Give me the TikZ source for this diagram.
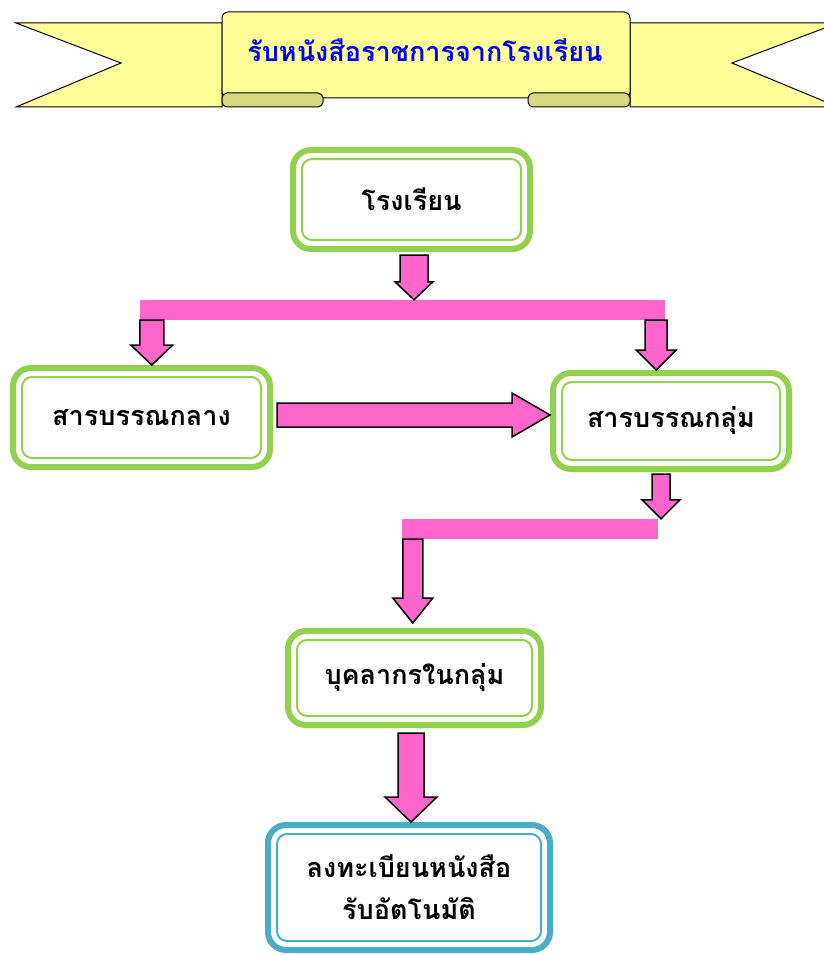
\documentclass[tikz,border=0pt]{standalone}
\usepackage{fontspec}
\newfontfamily\thaifont[Script=Thai]{Loma}
\usetikzlibrary{calc}
\definecolor{boxgreen}{HTML}{92D050}
\definecolor{boxblue}{HTML}{4BACC6}
\definecolor{arrpink}{HTML}{FF66CC}
\definecolor{ribbonyellow}{HTML}{FFFF99}
\definecolor{ribbondark}{HTML}{D8D880}
\definecolor{titleblue}{HTML}{0000FF}
\tikzset{
  box/.style={draw=#1, line width=6pt, rounded corners=18pt, fill=white, inner sep=0pt, align=center,
    font=\thaifont\bfseries\fontsize{27pt}{42pt}\selectfont,
    path picture={\draw[#1, line width=2pt, rounded corners=10pt]
      ([shift={(9pt,-9pt)}]path picture bounding box.north west) rectangle
      ([shift={(-9pt,9pt)}]path picture bounding box.south east);}},
  box/.default=boxgreen,
  bar/.style={fill=arrpink, draw=none, inner sep=0pt},
  parr/.style={draw=black, fill=arrpink, line width=1.5pt, line join=miter},
  ribbon/.style={draw=black, fill=ribbonyellow, line width=1pt},
  fold/.style={draw=black, fill=ribbondark, line width=1pt},
  ttl/.style={font=\thaifont\bfseries\fontsize{27pt}{30pt}\selectfont, text=titleblue},
}
\newcommand{\pinkdown}[5]{%
  \draw[parr] let \p1=#1, \p2=#2 in
    (\x1-#3pt,\y1) -- (\x1+#3pt,\y1) -- (\x1+#3pt,\y2+#5pt) -- (\x1+#4pt,\y2+#5pt)
    -- (\x1,\y2) -- (\x1-#4pt,\y2+#5pt) -- (\x1-#3pt,\y2+#5pt) -- cycle;}
\newcommand{\pinkright}[5]{%
  \draw[parr] let \p1=#1, \p2=#2 in
    (\x1,\y1+#3pt) -- (\x2-#5pt,\y1+#3pt) -- (\x2-#5pt,\y1+#4pt) -- (\x2,\y1)
    -- (\x2-#5pt,\y1-#4pt) -- (\x2-#5pt,\y1-#3pt) -- (\x1,\y1-#3pt) -- cycle;}

\begin{document}
\begin{tikzpicture}[x=1pt,y=-1pt]
\useasboundingbox (0,0) rectangle (823,955);
\draw[ribbon] (222,23) -- (16,23) -- (121,63) -- (16,107) -- (222,107) -- cycle;
\draw[ribbon] (630,23) -- (838,23) -- (732,63) -- (838,107) -- (630,107) -- cycle;
\draw[ribbon, rounded corners=6pt] (222,98) -- (222,12) -- (630,12) -- (630,98) -- cycle;
\draw[fold, rounded corners=5pt] (222,93) rectangle (323,107);
\draw[fold, rounded corners=5pt] (528,93) rectangle (630,107);
\node[ttl] (title) at (425,50) {รับหนังสือราชการจากโรงเรียน};
\node[box, minimum width=237pt, minimum height=99pt] (school) at (411.5,199.5) {โรงเรียน};
\node[bar, minimum width=525pt, minimum height=20pt] (bar1) at (402.5,310) {};
\node[box, minimum width=257pt, minimum height=99pt] (central) at (141.5,417.5) {สารบรรณกลาง};
\node[box, minimum width=236pt, minimum height=96pt] (group) at (671,421) {สารบรรณกลุ่ม};
\node[bar, minimum width=256pt, minimum height=20pt] (bar2) at (530,529) {};
\node[box, minimum width=253pt, minimum height=94pt] (staff) at (414.5,678) {บุคลากรในกลุ่ม};
\node[box=boxblue, minimum width=282pt, minimum height=125pt] (reg) at (409,887.5) {ลงทะเบียนหนังสือ\\รับอัตโนมัติ};
\pinkdown{([xshift=2.5pt,yshift=-3pt]school.south)}{(bar1.north)}{14}{19}{18}
\pinkdown{([xshift=12pt]bar1.south west)}{(central.north)}{12}{21}{20}
\pinkdown{([xshift=-9pt]bar1.south east)}{(group.north)}{11}{20}{20}
\pinkright{([xshift=4pt,yshift=2.5pt]central.east)}{(group.west)}{12}{22}{38}
\pinkdown{([xshift=-10pt,yshift=-2pt]group.south)}{(bar2.north)}{9}{19}{19}
\pinkdown{([xshift=11pt]bar2.south west)}{([yshift=5pt]staff.north)}{10}{20}{25}
\pinkdown{([xshift=-3.5pt,yshift=-5pt]staff.south)}{(reg.north)}{13}{26}{25}
\end{tikzpicture}
\end{document}
